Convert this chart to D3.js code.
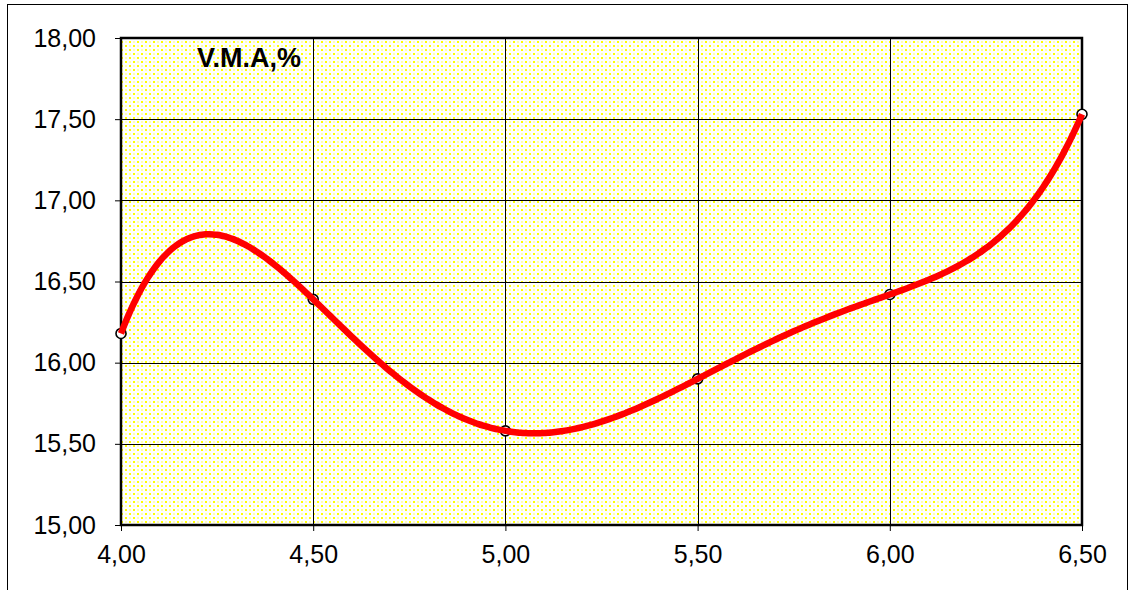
<!DOCTYPE html>
<html>
<head>
<meta charset="utf-8">
<script src="https://cdn.jsdelivr.net/npm/d3@7"></script>
<style>
  body { margin: 0; background: #fff; }
  text { font-family: Arial, "Liberation Sans", sans-serif; }
</style>
</head>
<body>
<svg id="chart" width="1134" height="590"></svg>
<script>
var bitumen = [4.0, 4.5, 5.0, 5.5, 6.0, 6.5],
    vma = [16.18, 16.39, 15.58, 15.90, 16.42, 17.53],
    xTicks = [4.0, 4.5, 5.0, 5.5, 6.0, 6.5],
    yTicks = [15.0, 15.5, 16.0, 16.5, 17.0, 17.5, 18.0],
    title = "V.M.A,%";

var svg = d3.select("#chart");
var margin = { left: 121, top: 38, right: 1082, bottom: 525 };
var fmt = function(d) { return d3.format(".2f")(d).replace(".", ","); };

var x = d3.scaleLinear().domain([4, 6.5]).range([margin.left, margin.right]);
var y = d3.scaleLinear().domain([15, 18]).range([margin.bottom, margin.top]);

// outer chart frame
svg.append("rect")
    .attr("x", 7.5).attr("y", 4.5)
    .attr("width", 1120).attr("height", 620)
    .attr("fill", "#fff").attr("stroke", "#000").attr("stroke-width", 1);

// dotted yellow fill like the excel pattern
var pat = svg.append("defs").append("pattern")
    .attr("id", "dots")
    .attr("patternUnits", "userSpaceOnUse")
    .attr("width", 8).attr("height", 8);
pat.append("rect").attr("width", 8).attr("height", 8).attr("fill", "#fff");
[[1, 1], [5, 5]].forEach(function(p) {
  pat.append("rect").attr("x", p[0]).attr("y", p[1])
      .attr("width", 2).attr("height", 2).attr("fill", "#ffff00");
});
[[5, 1], [1, 5]].forEach(function(p) {
  pat.append("rect").attr("x", p[0]).attr("y", p[1])
      .attr("width", 2).attr("height", 2).attr("fill", "#ffffb8");
});

svg.append("rect")
    .attr("x", margin.left).attr("y", margin.top)
    .attr("width", margin.right - margin.left)
    .attr("height", margin.bottom - margin.top)
    .attr("fill", "url(#dots)");

// grid
svg.append("g").selectAll("line")
    .data(xTicks.slice(1, -1))
  .enter().append("line")
    .attr("x1", function(d) { return Math.round(x(d)) + 0.5; })
    .attr("x2", function(d) { return Math.round(x(d)) + 0.5; })
    .attr("y1", margin.top).attr("y2", margin.bottom)
    .attr("stroke", "#000").attr("stroke-width", 1);

svg.append("g").selectAll("line")
    .data(yTicks.slice(1, -1))
  .enter().append("line")
    .attr("y1", function(d) { return Math.round(y(d)) + 0.5; })
    .attr("y2", function(d) { return Math.round(y(d)) + 0.5; })
    .attr("x1", margin.left).attr("x2", margin.right)
    .attr("stroke", "#000").attr("stroke-width", 1);

// axes (ticks + labels only, the frame is drawn separately)
var yAxis = svg.append("g")
    .attr("transform", "translate(" + margin.left + ",0)")
    .call(d3.axisLeft(y).tickValues(yTicks).tickFormat(fmt).tickSize(6).tickPadding(19));
var xAxis = svg.append("g")
    .attr("transform", "translate(0," + margin.bottom + ")")
    .call(d3.axisBottom(x).tickValues(xTicks).tickFormat(fmt).tickSize(6).tickPadding(14));
[yAxis, xAxis].forEach(function(a) {
  a.select(".domain").remove();
  a.selectAll(".tick line").attr("stroke", "#000");
  a.selectAll(".tick text")
      .attr("fill", "#000")
      .style("font-size", "25px")
      .style("font-family", "Arial, 'Liberation Sans', sans-serif");
});

// plot area border
svg.append("rect")
    .attr("x", margin.left).attr("y", margin.top)
    .attr("width", margin.right - margin.left)
    .attr("height", margin.bottom - margin.top)
    .attr("fill", "none").attr("stroke", "#000").attr("stroke-width", 2.5);

// markers
svg.append("g").selectAll("circle")
    .data(bitumen)
  .enter().append("circle")
    .attr("cx", function(d) { return x(d); })
    .attr("cy", function(d, i) { return y(vma[i]); })
    .attr("r", 5)
    .attr("fill", "#fff").attr("stroke", "#000").attr("stroke-width", 1.6);

// polynomial trendline (order 5 through the 6 points)
function poly(t) {
  var s = 0;
  for (var i = 0; i < bitumen.length; i++) {
    var l = 1;
    for (var j = 0; j < bitumen.length; j++) {
      if (j !== i) l *= (t - bitumen[j]) / (bitumen[i] - bitumen[j]);
    }
    s += vma[i] * l;
  }
  return s;
}
var samples = d3.range(4, 6.5 + 1e-9, 0.01);
var line = d3.line()
    .x(function(d) { return x(d); })
    .y(function(d) { return y(poly(d)); })
    .curve(d3.curveMonotoneX);

svg.append("path")
    .datum(samples)
    .attr("d", line)
    .attr("fill", "none")
    .attr("stroke", "#ff0000")
    .attr("stroke-width", 6.5)
    .attr("stroke-linecap", "butt");

// title inside plot
svg.append("text")
    .attr("x", 197).attr("y", 67)
    .style("font-size", "27px")
    .style("font-weight", "bold")
    .attr("fill", "#000")
    .text(title);
</script>
</body>
</html>
